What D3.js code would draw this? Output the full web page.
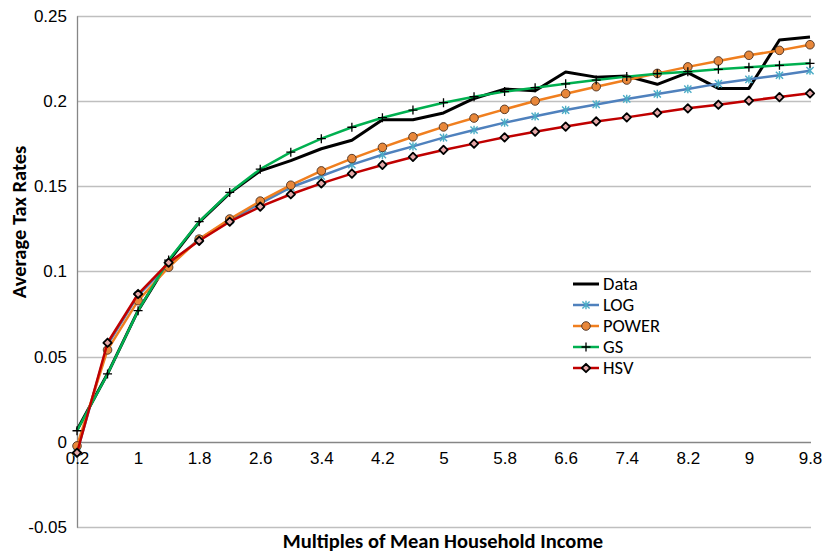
<!DOCTYPE html>
<html>
<head>
<meta charset="utf-8">
<script src="https://cdn.jsdelivr.net/npm/d3@7"></script>
<style>
  html, body { margin: 0; padding: 0; background: #fff; }
  svg { display: block; font-family: Carlito, Lato, "Liberation Sans", sans-serif; }
</style>
</head>
<body>
<svg id="chart" width="823" height="554"></svg>
<script>
// Income multiples (category axis)
const categories = ["0.2","0.6","1","1.4","1.8","2.2","2.6","3","3.4","3.8","4.2","4.6","5",
                    "5.4","5.8","6.2","6.6","7","7.4","7.8","8.2","8.6","9","9.4","9.8"];

// Average tax rate by income multiple
const dataRates  = [0.007,0.040,0.077,0.106,0.129,0.146,0.159,0.165,0.172,0.177,0.189,0.189,0.193,
                    0.2015,0.207,0.206,0.217,0.214,0.2147,0.2098,0.2166,0.2074,0.2074,0.2358,0.2375];
const logRates   = [-0.006,0.057,0.086,0.104,0.119,0.130,0.140,0.1494,0.156,0.1627,0.1685,0.1734,0.1785,
                    0.183,0.1873,0.191,0.1947,0.198,0.2012,0.2041,0.207,0.2102,0.2127,0.2151,0.2178];
const powerRates = [-0.0023,0.054,0.0829,0.1025,0.119,0.1308,0.1413,0.1506,0.159,0.1662,0.1728,0.179,0.1848,
                    0.190,0.1951,0.200,0.2043,0.2084,0.2123,0.2162,0.220,0.2235,0.2268,0.2297,0.233];
const gsRates    = [0.0066,0.0399,0.077,0.1067,0.1292,0.1464,0.160,0.170,0.1779,0.1846,0.1902,0.1947,0.199,
                    0.2025,0.2055,0.2078,0.2101,0.2123,0.2143,0.216,0.2172,0.2186,0.2198,0.2209,0.2221];
const hsvRates   = [-0.0063,0.0582,0.0868,0.1052,0.118,0.1292,0.138,0.1453,0.1517,0.1574,0.1625,0.1672,0.1713,
                    0.175,0.1787,0.182,0.185,0.188,0.1904,0.1931,0.1957,0.1978,0.2002,0.2023,0.2045];

const yTicks = [-0.05, 0, 0.05, 0.1, 0.15, 0.2, 0.25];
const yTickLabels = ["-0.05","0","0.05","0.1","0.15","0.2","0.25"];

const series = [
  { name: "Data",  values: dataRates,  color: "#000000", width: 3,   marker: null },
  { name: "LOG",   values: logRates,   color: "#4f81bd", width: 2.5, marker: "star" },
  { name: "POWER", values: powerRates, color: "#f07f1f", width: 2.5, marker: "circle" },
  { name: "GS",    values: gsRates,    color: "#00b050", width: 2.5, marker: "plus" },
  { name: "HSV",   values: hsvRates,   color: "#c00000", width: 2.5, marker: "diamond" }
];

const svg = d3.select("#chart");

const x = d3.scalePoint().domain(categories).range([77, 810]);
const y = d3.scaleLinear().domain([-0.05, 0.25]).range([527.25, 15.75]);

// horizontal gridlines
svg.append("g")
  .selectAll("line")
  .data(yTicks.filter(t => t !== 0))
  .join("line")
  .attr("x1", x.range()[0]).attr("x2", x.range()[1] + 1)
  .attr("y1", d => Math.round(y(d)) + 0.5).attr("y2", d => Math.round(y(d)) + 0.5)
  .attr("stroke", "#bfbfbf").attr("stroke-width", 1.3);

// y axis
const yAxis = svg.append("g")
  .attr("transform", `translate(${x.range()[0]},0)`)
  .call(d3.axisLeft(y).tickValues(yTicks).tickSize(0).tickPadding(10)
        .tickFormat((d, i) => yTickLabels[i]));
yAxis.select(".domain").attr("stroke", "#868686").attr("stroke-width", 1.3);
yAxis.selectAll("text").attr("font-size", 17).attr("fill", "#000").attr("font-family", null);

// x axis sitting at zero
const xAxis = svg.append("g")
  .attr("transform", `translate(0,${Math.round(y(0)) + 0.5})`)
  .call(d3.axisBottom(x).tickSize(0).tickPadding(9)
        .tickFormat((d, i) => i % 2 === 0 ? d : ""));
xAxis.select(".domain").attr("stroke", "#868686").attr("stroke-width", 1.3)
  .attr("d", `M${x.range()[0]},0H${x.range()[1] + 1}`);
xAxis.selectAll("text").attr("font-size", 17).attr("fill", "#000").attr("font-family", null);

// marker drawing
function drawMarker(g, type, cx, cy) {
  if (type === "star") {
    const s = 3.6;
    g.append("path")
      .attr("d", `M${cx - s},${cy - s}L${cx + s},${cy + s}M${cx - s},${cy + s}L${cx + s},${cy - s}M${cx},${cy - s - 0.6}L${cx},${cy + s + 0.6}`)
      .attr("stroke", "#4bacc6").attr("stroke-width", 1.4).attr("fill", "none");
  } else if (type === "circle") {
    g.append("circle").attr("cx", cx).attr("cy", cy).attr("r", 4.3)
      .attr("fill", "#e8873a").attr("stroke", "#4a3020").attr("stroke-width", 0.9);
  } else if (type === "plus") {
    const s = 4.5;
    g.append("path")
      .attr("d", `M${cx - s},${cy}L${cx + s},${cy}M${cx},${cy - s}L${cx},${cy + s}`)
      .attr("stroke", "#000").attr("stroke-width", 1.3).attr("fill", "none");
  } else if (type === "diamond") {
    const s = 4.2;
    g.append("path")
      .attr("d", `M${cx},${cy - s}L${cx + s},${cy}L${cx},${cy + s}L${cx - s},${cy}Z`)
      .attr("fill", "#e6a8a8").attr("stroke", "#000").attr("stroke-width", 1.8)
      .attr("stroke-linejoin", "round");
  }
}

const line = d3.line().x((d, i) => x(categories[i])).y(d => y(d));

series.forEach(s => {
  const g = svg.append("g");
  g.append("path")
    .attr("d", line(s.values))
    .attr("fill", "none").attr("stroke", s.color).attr("stroke-width", s.width)
    .attr("stroke-linejoin", "round");
  if (s.marker) {
    s.values.forEach((v, i) => drawMarker(g, s.marker, x(categories[i]), y(v)));
  }
});

// legend
const legend = svg.append("g");
series.forEach((s, i) => {
  const ly = 284 + i * 21;
  legend.append("line").attr("x1", 573).attr("x2", 599).attr("y1", ly).attr("y2", ly)
    .attr("stroke", s.color).attr("stroke-width", s.width);
  if (s.marker) drawMarker(legend, s.marker, 586, ly);
  legend.append("text").attr("x", 603).attr("y", ly).attr("dy", "0.35em")
    .attr("font-size", 18.5).attr("fill", "#000").text(s.name);
});

// axis titles
svg.append("text")
  .attr("x", 443).attr("y", 541).attr("dy", "0.35em").attr("text-anchor", "middle")
  .attr("font-size", 20.5).attr("font-weight", "bold").text("Multiples of Mean Household Income");
svg.append("text")
  .attr("transform", `translate(19,222) rotate(-90)`)
  .attr("dy", "0.35em").attr("text-anchor", "middle")
  .attr("font-size", 20.5).attr("font-weight", "bold").text("Average Tax Rates");
</script>
</body>
</html>
